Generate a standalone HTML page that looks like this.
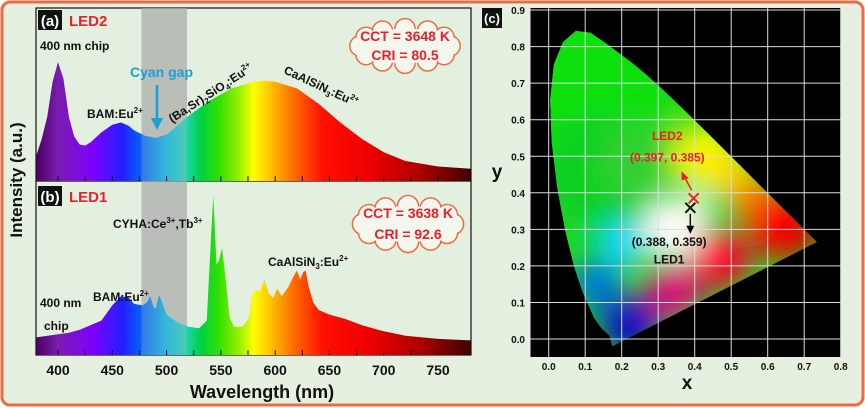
<!DOCTYPE html>
<html><head><meta charset="utf-8">
<style>
html,body{margin:0;padding:0;background:#fff;}
svg{display:block;font-family:"Liberation Sans",Arial,sans-serif;font-weight:bold;}
</style></head>
<body>
<svg id="fig" width="865" height="408" viewBox="0 0 865 408">
<defs>
<linearGradient id="spec" gradientUnits="userSpaceOnUse" x1="36" y1="0" x2="471" y2="0">
<stop offset="0" stop-color="#4b0060"/><stop offset="0.05" stop-color="#7a1cb0"/><stop offset="0.13" stop-color="#8000ff"/>
<stop offset="0.2" stop-color="#2020ff"/><stop offset="0.25" stop-color="#0070ff"/><stop offset="0.3" stop-color="#00c0f0"/>
<stop offset="0.34" stop-color="#20d8c0"/><stop offset="0.38" stop-color="#00d040"/><stop offset="0.42" stop-color="#30e000"/>
<stop offset="0.47" stop-color="#a0f000"/><stop offset="0.5" stop-color="#ffff00"/><stop offset="0.54" stop-color="#ffc000"/>
<stop offset="0.6" stop-color="#ff6000"/><stop offset="0.66" stop-color="#ff1000"/><stop offset="0.76" stop-color="#f00000"/>
<stop offset="0.88" stop-color="#b00000"/><stop offset="1" stop-color="#400000"/>
</linearGradient>
<filter id="blur" x="-50%" y="-50%" width="200%" height="200%"><feGaussianBlur stdDeviation="14"/></filter>
<clipPath id="clipA"><path id="pathA"/></clipPath>
<clipPath id="clipB"><path id="pathB"/></clipPath>
<clipPath id="clipC"><path id="pathC"/></clipPath>
</defs>
<rect x="2" y="2" width="861" height="403" rx="8" fill="#e5f0e0" stroke="#ee6a40" stroke-width="3"/>

<g id="left">
<rect x="36" y="8" width="435" height="347" fill="#e3efdf" stroke="#111" stroke-width="1.2"/>
<line x1="36" y1="181" x2="471" y2="181" stroke="#111" stroke-width="1.2"/>
<rect x="141.5" y="8" width="45.5" height="347" fill="#a8a8a8" opacity="0.55"/>
<rect x="36" y="8" width="435" height="174" fill="url(#spec)" clip-path="url(#clipA)"/>
<rect x="36" y="181" width="435" height="174" fill="url(#spec)" clip-path="url(#clipB)"/>
<rect x="141.5" y="8" width="45.5" height="347" fill="#a8a8a8" opacity="0.3"/>
<g id="xticks"></g>
<text x="22" y="180" transform="rotate(-90 22 180)" text-anchor="middle" font-size="17" fill="#111">Intensity (a.u.)</text>
<text x="262" y="398" text-anchor="middle" font-size="18" fill="#111">Wavelength (nm)</text>
<rect x="38" y="10" width="24" height="20" fill="#111"/>
<text x="50" y="26" text-anchor="middle" font-size="15" fill="#fff">(a)</text>
<text x="69" y="26" font-size="15" fill="#e8202a">LED2</text>
<rect x="38" y="186" width="24" height="20" fill="#111"/>
<text x="50" y="202" text-anchor="middle" font-size="15" fill="#fff">(b)</text>
<text x="69" y="202" font-size="15" fill="#e8202a">LED1</text>
<g font-size="12" fill="#111">
<text x="40" y="50">400 nm chip</text>
<text x="87" y="118">BAM:Eu<tspan dy="-5" font-size="8">2+</tspan></text>
<text transform="translate(172,123) rotate(-33)">(Ba,Sr)<tspan dy="3" font-size="8">2</tspan><tspan dy="-3">SiO</tspan><tspan dy="3" font-size="8">4</tspan><tspan dy="-3">:Eu</tspan><tspan dy="-5" font-size="8">2+</tspan></text>
<text transform="translate(283,73) rotate(25)">CaAlSiN<tspan dy="3" font-size="8">3</tspan><tspan dy="-3">:Eu</tspan><tspan dy="-5" font-size="8">2+</tspan></text>
<text x="113" y="228">CYHA:Ce<tspan dy="-5" font-size="8">3+</tspan><tspan dy="5">,Tb</tspan><tspan dy="-5" font-size="8">3+</tspan></text>
<text x="268" y="266">CaAlSiN<tspan dy="3" font-size="8">3</tspan><tspan dy="-3">:Eu</tspan><tspan dy="-5" font-size="8">2+</tspan></text>
<text x="93" y="301">BAM:Eu<tspan dy="-5" font-size="8">2+</tspan></text>
<text x="40" y="307">400 nm</text>
<text x="44" y="330">chip</text>
</g>
<text x="130" y="77" font-size="14" fill="#1aa0d8">Cyan gap</text>
<line x1="157" y1="85" x2="157" y2="120" stroke="#1aa0d8" stroke-width="2.5"/>
<polygon points="151,118 163,118 157,130" fill="#1aa0d8"/>
<g id="cloud1"></g>
<g id="cloud2"></g>
<g id="cloudtext" font-size="14" fill="#e8202a" text-anchor="middle">
<text x="405" y="41">CCT = 3648 K</text>
<text x="405" y="60">CRI = 80.5</text>
<text x="408" y="218">CCT = 3638 K</text>
<text x="408" y="239">CRI = 92.6</text>
</g>
</g>

<g id="right">
<rect x="482" y="8" width="20" height="20" fill="#111"/>
<text x="492" y="23" text-anchor="middle" font-size="13" fill="#fff">(c)</text>
<rect x="530.5" y="8" width="310.5" height="349" fill="#000"/>
<g clip-path="url(#clipC)">
<rect x="530" y="8" width="311" height="349" fill="#20d820"/>
<g id="blobs" filter="url(#blur)"></g>
</g>
<g id="grid"></g>
<g id="cticks" font-size="10" fill="#111"></g>
<text x="497" y="178" text-anchor="middle" font-size="19" fill="#111">y</text>
<text x="687" y="389" text-anchor="middle" font-size="19" fill="#111">x</text>
<g id="marks"></g>
</g>
</svg>

<script>
// ---- spectra data ----
var wl = [380,385,390,395,400,405,410,415,420,425,430,440,450,458,465,470,480,490,500,510,520,540,560,580,590,600,620,640,660,680,700,720,750,780];
var led2 = [0.15,0.3,0.5,0.82,1.0,0.85,0.5,0.32,0.25,0.24,0.27,0.36,0.43,0.45,0.42,0.38,0.33,0.31,0.34,0.42,0.51,0.65,0.76,0.82,0.83,0.82,0.76,0.62,0.45,0.3,0.18,0.1,0.05,0.03];
var wlB = [380,400,410,420,440,450,458,465,470,478,482,485,488,490,493,496,500,510,520,530,537,540,543,546,548,551,554,558,562,570,576,579,582,586,590,594,598,602,606,612,616,620,623,626,628,631,635,640,650,665,680,700,720,750,780];
var led1 = [0.07,0.09,0.1,0.12,0.18,0.28,0.34,0.33,0.29,0.28,0.3,0.34,0.27,0.26,0.35,0.3,0.22,0.17,0.14,0.13,0.18,0.6,1.0,0.55,0.57,0.66,0.48,0.2,0.14,0.14,0.2,0.36,0.38,0.37,0.45,0.36,0.33,0.39,0.34,0.4,0.46,0.51,0.45,0.5,0.51,0.4,0.3,0.25,0.22,0.19,0.15,0.11,0.08,0.06,0.05];
var xTicks = [400,450,500,550,600,650,700,750];
// ---- CIE data ----
var locusX = [0.1741,0.1666,0.1440,0.1241,0.0913,0.0687,0.0454,0.0235,0.0082,0.0039,0.0139,0.0389,0.0743,0.1142,0.1547,0.1929,0.2296,0.2658,0.3016,0.3373,0.3731,0.4087,0.4441,0.4788,0.5125,0.5448,0.5752,0.6029,0.6270,0.6482,0.6658,0.6801,0.7347];
var locusY = [-0.02,0.0089,0.0297,0.0578,0.1327,0.2007,0.2950,0.4127,0.5384,0.6548,0.7502,0.8120,0.8430,0.8380,0.8100,0.7816,0.7543,0.7243,0.6923,0.6589,0.6245,0.5896,0.5547,0.5202,0.4866,0.4544,0.4242,0.3965,0.3725,0.3514,0.3340,0.3197,0.2653];
var ledNames = ["LED2","LED1"];
var ledX = [0.397,0.388];
var ledY = [0.385,0.359];
var cieTicks = [0.0,0.1,0.2,0.3,0.4,0.5,0.6,0.7,0.8];
var cieYTicks = [0.0,0.1,0.2,0.3,0.4,0.5,0.6,0.7,0.8,0.9];

var NS="http://www.w3.org/2000/svg";
function mk(tag,attrs,parent){var e=document.createElementNS(NS,tag);for(var k in attrs)e.setAttribute(k,attrs[k]);parent.appendChild(e);return e;}
function sx(w){return 36.3+(w-380)*1.0857;}
function yA(v){return 172-v*110;}
function yB(v){return 348-v*152;}
function areaPath(xs,vs,yf,base){var d="M"+sx(xs[0])+","+base;for(var i=0;i<xs.length;i++)d+=" L"+sx(xs[i]).toFixed(1)+","+yf(vs[i]).toFixed(1);d+=" L"+sx(xs[xs.length-1])+","+base+"Z";return d;}
document.getElementById('pathA').setAttribute('d',areaPath(wl,led2,yA,181));
document.getElementById('pathB').setAttribute('d',areaPath(wlB,led1,yB,355));

var xt=document.getElementById('xticks');
for(var w=400;w<=775;w+=25){
  var t=mk('line',{x1:sx(w),x2:sx(w),y1:355,y2:350,stroke:'#111','stroke-width':1},xt);
  
  
  var t2=mk('line',{x1:sx(w),x2:sx(w),y1:181,y2:176,stroke:'#111','stroke-width':1},xt);
  
  
}
xTicks.forEach(function(w){
  var l=mk('text',{x:sx(w),y:375,'text-anchor':'middle','font-size':14,fill:'#111'},xt);
  l.textContent=w;
  
  
});

function cloud(g,ccx,ccy,rx,ry){
  var circ=[];var n=12;
  for(var i=0;i<n;i++){var a=i/n*2*Math.PI;circ.push([ccx+Math.cos(a)*rx*0.82,ccy+Math.sin(a)*ry*0.72,Math.min(rx,ry)*0.42]);}
  circ.forEach(function(c){mk('circle',{cx:c[0],cy:c[1],r:c[2],fill:'#f3f7ee',stroke:'#ee6a40','stroke-width':1.5},g);});
  circ.forEach(function(c){mk('circle',{cx:c[0],cy:c[1],r:c[2]-0.9,fill:'#f3f7ee'},g);});
  mk('ellipse',{cx:ccx,cy:ccy,rx:rx*0.82,ry:ry*0.72,fill:'#f3f7ee'},g);
}
cloud(document.getElementById('cloud1'),405,46,55,24);
cloud(document.getElementById('cloud2'),408,224,55,25);

// CIE
function cx(v){return 548.7+v*365;}
function cy(v){return 339-v*365.5;}
var dd="";for(var i=0;i<locusX.length;i++)dd+=(i?" L":"M")+cx(locusX[i]).toFixed(1)+","+cy(locusY[i]).toFixed(1);
document.getElementById('pathC').setAttribute('d',dd+"Z");
var blobs=[[0.1,0.65,'#10e010',90],[0.15,0.45,'#10d020',60],[0.25,0.48,'#30d030',40],[0.43,0.5,'#f8f800',34],[0.5,0.45,'#ffe000',24],[0.56,0.38,'#ff8000',24],[0.64,0.31,'#ff0000',34],[0.71,0.27,'#b00000',14],[0.47,0.22,'#ff0030',30],[0.34,0.13,'#e0107a',28],[0.22,0.04,'#1010c0',30],[0.13,0.15,'#0070e0',24],[0.2,0.26,'#10d8ff',24],[0.34,0.3,'#ffffff',30],[0.4,0.35,'#fff8f0',18]];
var bg=document.getElementById('blobs');
blobs.forEach(function(b){mk('circle',{cx:cx(b[0]),cy:cy(b[1]),r:b[3],fill:b[2]},bg);});
var gr=document.getElementById('grid');
cieTicks.forEach(function(v){var l=mk('line',{x1:cx(v),x2:cx(v),y1:8,y2:357,stroke:'#ddd','stroke-width':1},gr);
  
  });
cieYTicks.forEach(function(v){var l=mk('line',{x1:530.5,x2:841,y1:cy(v),y2:cy(v),stroke:'#ddd','stroke-width':1},gr);
  
  });
var ct=document.getElementById('cticks');
cieTicks.forEach(function(v){var l=mk('text',{x:cx(v),y:370,'text-anchor':'middle'},ct);l.textContent=v.toFixed(1);
  
  });
cieYTicks.forEach(function(v){var l=mk('text',{x:525,y:cy(v)+4,'text-anchor':'end'},ct);l.textContent=v.toFixed(1);
  
  });

var mg=document.getElementById('marks');
var cols=['#ee2020','#111'];
for(var k=0;k<2;k++){
  var px=cx(ledX[k]),py=cy(ledY[k]),c=cols[k];
  var m=mk('path',{d:'M'+(px-5)+','+(py-5)+' L'+(px+5)+','+(py+5)+' M'+(px+5)+','+(py-5)+' L'+(px-5)+','+(py+5),stroke:c,'stroke-width':2},mg);
  
  
}
var r2x=cx(ledX[0]),r2y=cy(ledY[0]);
var a1=mk('path',{d:'M'+(r2x-2)+','+(r2y-8)+' L'+(r2x-9)+','+(r2y-21),stroke:'#ee2020','stroke-width':1.5,fill:'none'},mg);


var h1=mk('polygon',{points:(r2x-12)+','+(r2y-27)+' '+(r2x-5)+','+(r2y-20)+' '+(r2x-12)+','+(r2y-18),fill:'#ee2020'},mg);


var b1x=cx(ledX[1]),b1y=cy(ledY[1]);
var a2=mk('line',{x1:b1x,y1:b1y+6,x2:b1x,y2:b1y+19,stroke:'#111','stroke-width':1.5},mg);


var h2=mk('polygon',{points:(b1x-4)+','+(b1y+18)+' '+(b1x+4)+','+(b1y+18)+' '+b1x+','+(b1y+26)},mg);


function lbl(txt,x,y,col,name){var t=mk('text',{x:x,y:y,'text-anchor':'middle','font-size':12,fill:col},mg);t.textContent=txt;
  
  }
lbl(ledNames[0],cx(0.325),cy(0.545),'#ee2020','led2-cie-name');
lbl('('+ledX[0].toFixed(3)+', '+ledY[0].toFixed(3)+')',cx(0.325),cy(0.485),'#ee2020','led2-cie-coords');
lbl('('+ledX[1].toFixed(3)+', '+ledY[1].toFixed(3)+')',cx(0.33),cy(0.255),'#111','led1-cie-coords');
lbl(ledNames[1],cx(0.33),cy(0.207),'#111','led1-cie-name');
// keep cloud text above clouds
document.getElementById('left').appendChild(document.getElementById('cloudtext'));
</script>
</body></html>
